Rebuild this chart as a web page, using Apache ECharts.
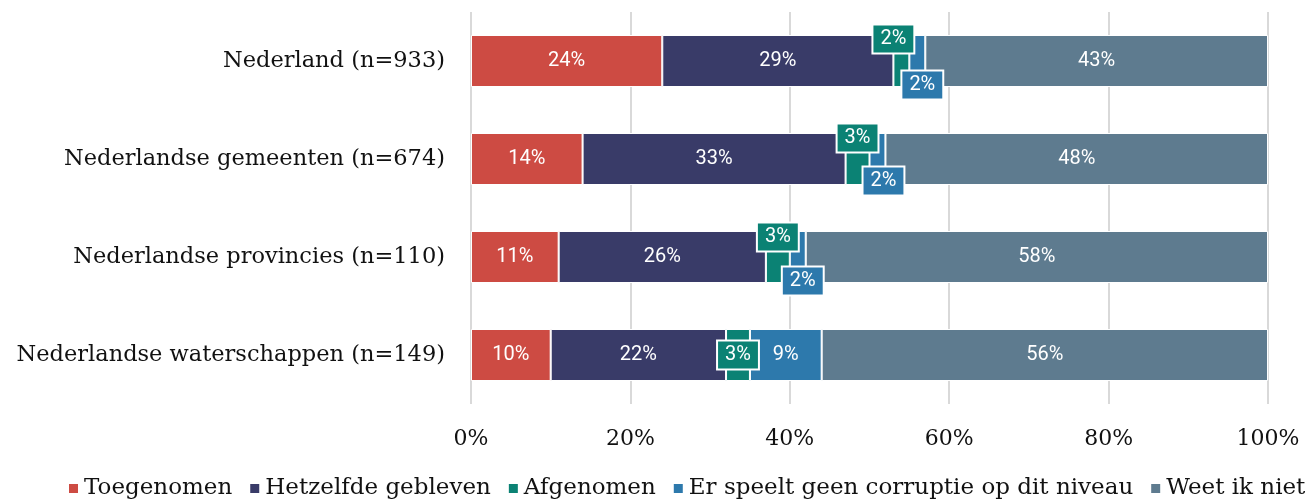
<!DOCTYPE html>
<html>
<head>
<meta charset="utf-8">
<script src="https://cdn.jsdelivr.net/npm/echarts@6/dist/echarts.min.js"></script>
<style>
  html, body { margin: 0; padding: 0; background: #fff; }
  #chart { width: 1316px; height: 502px; }
</style>
</head>
<body>
<div id="chart"></div>
<script>
// Categories, top to bottom
const categories = [
    'Nederland (n=933)',
    'Nederlandse gemeenten (n=674)',
    'Nederlandse provincies (n=110)',
    'Nederlandse waterschappen (n=149)',
];

const toegenomen  = [24, 14, 11, 10];
const hetzelfde   = [29, 33, 26, 22];
const afgenomen   = [2, 3, 3, 3];
const geenCorrupt = [2, 2, 2, 9];
const weetNiet    = [43, 48, 58, 56];

const SERIF = '"DejaVu Serif", "Liberation Serif", serif';
const SANS = 'Roboto, "Noto Sans", sans-serif';

// Small segments get a boxed callout label; offsets [dx, dy] per category index
const callouts = {
    'Afgenomen': { 0: [-8, -22], 1: [0, -21], 2: [0, -20], 3: [0, 0] },
    'Er speelt geen corruptie op dit niveau': { 0: [5, 24], 1: [6, 22], 2: [5, 24] },
};

const seriesDefs = [
    { name: 'Toegenomen', color: '#CD4B43', data: toegenomen },
    { name: 'Hetzelfde gebleven', color: '#393B68', data: hetzelfde },
    { name: 'Afgenomen', color: '#0B8274', data: afgenomen },
    { name: 'Er speelt geen corruptie op dit niveau', color: '#2D79AC', data: geenCorrupt },
    { name: 'Weet ik niet', color: '#5E7B8F', data: weetNiet },
];

// ECharts draws the first category at the bottom, so reverse for display
const yCats = categories.slice().reverse();

const series = seriesDefs.map(s => {
    const offs = callouts[s.name] || {};
    const data = s.data.map((v, i) => {
        const item = { value: v };
        if (offs[i]) {
            item.label = {
                offset: offs[i],
                backgroundColor: s.color,
                borderColor: '#fff',
                borderWidth: 2,
                padding: [4, 7, 3, 7],
            };
        }
        return item;
    }).reverse();
    return {
        name: s.name,
        type: 'bar',
        stack: 'total',
        barWidth: 52,
        itemStyle: { color: s.color, borderColor: '#fff', borderWidth: 1 },
        label: {
            show: true,
            position: 'inside',
            color: '#fff',
            fontFamily: SANS,
            fontSize: 20,
            formatter: '{c}%',
        },
        data,
    };
});

const chart = echarts.init(document.getElementById('chart'));
chart.setOption({
    animation: false,
    backgroundColor: '#fff',
    grid: { left: 471, right: 48, top: 12, bottom: 98 },
    legend: {
        bottom: -3,
        left: 62,
        itemWidth: 11,
        itemHeight: 11,
        itemGap: 16,
        icon: 'rect',
        textStyle: { fontFamily: SERIF, fontSize: 23, color: '#111' },
        data: seriesDefs.map(s => s.name),
    },
    xAxis: {
        type: 'value',
        min: 0,
        max: 100,
        interval: 20,
        axisLine: { show: false },
        axisTick: { show: false },
        splitLine: { lineStyle: { color: '#d9d9d9', width: 2 } },
        axisLabel: {
            formatter: '{value}%',
            fontFamily: SERIF,
            fontSize: 22,
            color: '#111',
            margin: 24,
        },
    },
    yAxis: {
        type: 'category',
        data: yCats,
        axisLine: { show: false },
        axisTick: { show: false },
        axisLabel: {
            fontFamily: SERIF,
            fontSize: 22.5,
            color: '#111',
            margin: 26,
        },
    },
    series,
});
</script>
</body>
</html>
